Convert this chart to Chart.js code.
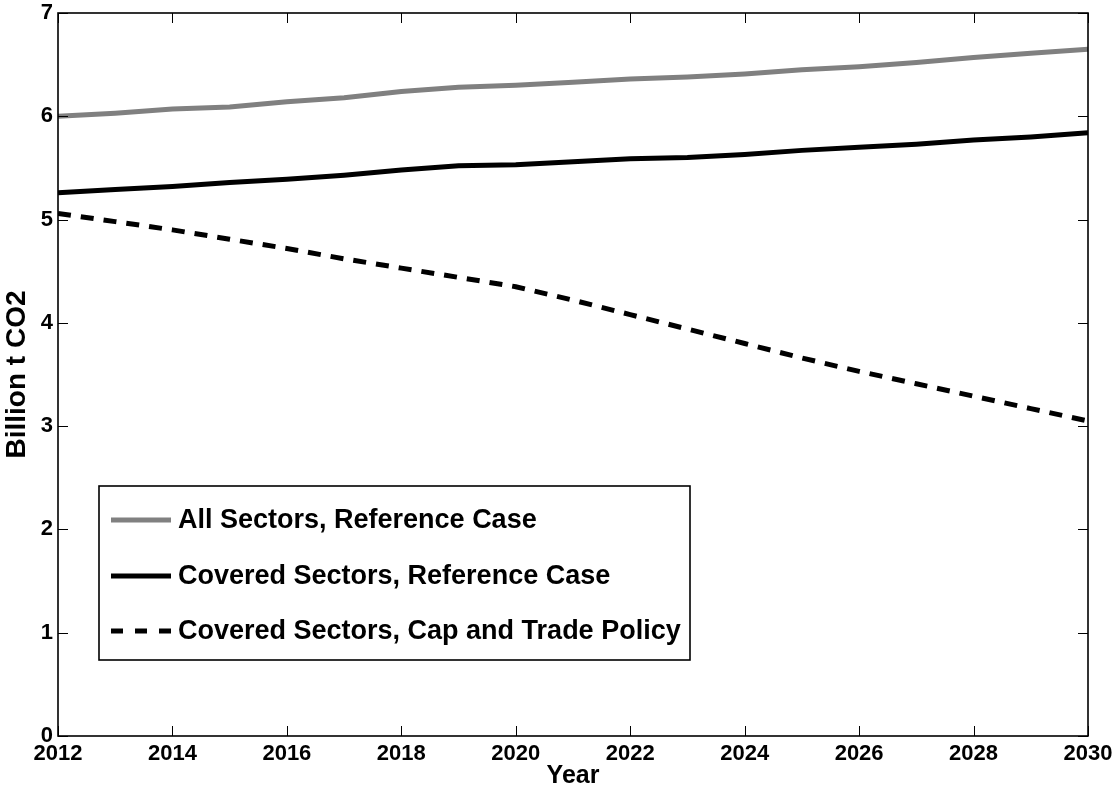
<!DOCTYPE html>
<html>
<head>
<meta charset="utf-8">
<script src="https://cdn.jsdelivr.net/npm/chart.js@4/dist/chart.umd.min.js"></script>
<style>
  html, body { margin: 0; padding: 0; background: #ffffff; }
  #wrap { width: 1114px; height: 791px; }
</style>
</head>
<body>
<div id="wrap"><canvas id="c" width="1114" height="791"></canvas></div>
<script>
const years = [2012, 2013, 2014, 2015, 2016, 2017, 2018, 2019, 2020, 2021, 2022, 2023, 2024, 2025, 2026, 2027, 2028, 2029, 2030];
const allSectorsRef = [6.00, 6.03, 6.07, 6.09, 6.14, 6.18, 6.24, 6.28, 6.30, 6.33, 6.36, 6.38, 6.41, 6.45, 6.48, 6.52, 6.57, 6.61, 6.65];
const coveredRef = [5.26, 5.29, 5.32, 5.36, 5.39, 5.43, 5.48, 5.52, 5.53, 5.56, 5.59, 5.60, 5.63, 5.67, 5.70, 5.73, 5.77, 5.80, 5.84];
const coveredCap = [5.06, 4.98, 4.90, 4.81, 4.72, 4.62, 4.53, 4.44, 4.35, 4.22, 4.08, 3.94, 3.80, 3.66, 3.53, 3.41, 3.29, 3.17, 3.05];
const seriesLabels = ["All Sectors, Reference Case", "Covered Sectors, Reference Case", "Covered Sectors, Cap and Trade Policy"];
const xTickStep = 2;
const yTicks = [0, 1, 2, 3, 4, 5, 6, 7];
const xTitle = "Year";
const yTitle = "Billion t CO2";

const FONT = "'Liberation Sans', Arial, Helvetica, sans-serif";
const DASH = [13, 10];

function pts(vals) { return years.map((y, i) => ({ x: y, y: vals[i] })); }

const framePlugin = {
  id: 'frame',
  afterDatasetsDraw(chart) {
    const ctx = chart.ctx;
    const a = chart.chartArea;
    const xs = chart.scales.x, ys = chart.scales.y;
    const tl = 10;
    ctx.save();
    ctx.strokeStyle = '#000';
    ctx.lineWidth = 1;
    ctx.beginPath();
    xs.ticks.forEach(t => {
      const px = Math.round(xs.getPixelForValue(t.value)) + 0.5;
      ctx.moveTo(px, a.bottom); ctx.lineTo(px, a.bottom - tl);
      ctx.moveTo(px, a.top); ctx.lineTo(px, a.top + tl);
    });
    ys.ticks.forEach(t => {
      const py = Math.round(ys.getPixelForValue(t.value)) + 0.5;
      ctx.moveTo(a.left, py); ctx.lineTo(a.left + tl, py);
      ctx.moveTo(a.right, py); ctx.lineTo(a.right - tl, py);
    });
    ctx.stroke();
    ctx.lineWidth = 1.6;
    ctx.strokeRect(a.left, a.top, a.right - a.left, a.bottom - a.top);
    ctx.restore();
  }
};

const legendPlugin = {
  id: 'boxLegend',
  afterDraw(chart) {
    const ctx = chart.ctx;
    const a = chart.chartArea;
    const bx = a.left + 41, by = 486, bw = 591, bh = 174;
    ctx.save();
    ctx.fillStyle = '#fff';
    ctx.fillRect(bx, by, bw, bh);
    ctx.strokeStyle = '#000';
    ctx.lineWidth = 1.6;
    ctx.strokeRect(bx, by, bw, bh);
    const rows = [520, 576, 631];
    chart.data.datasets.forEach((ds, i) => {
      const y = rows[i];
      ctx.beginPath();
      ctx.strokeStyle = ds.borderColor;
      ctx.lineWidth = ds.borderWidth;
      ctx.setLineDash(ds.borderDash ? [12, 12] : []);
      ctx.moveTo(bx + 12, y);
      ctx.lineTo(bx + 72, y);
      ctx.stroke();
      ctx.setLineDash([]);
      ctx.fillStyle = '#000';
      ctx.font = "bold 27px " + FONT;
      ctx.textBaseline = 'middle';
      ctx.textAlign = 'left';
      ctx.fillText(ds.label, bx + 79, y + 1);
    });
    ctx.restore();
  }
};

new Chart(document.getElementById('c'), {
  type: 'line',
  data: {
    datasets: [
      { label: seriesLabels[0], data: pts(allSectorsRef), borderColor: '#808080', borderWidth: 5, pointRadius: 0, tension: 0, fill: false },
      { label: seriesLabels[1], data: pts(coveredRef), borderColor: '#000000', borderWidth: 5, pointRadius: 0, tension: 0, fill: false },
      { label: seriesLabels[2], data: pts(coveredCap), borderColor: '#000000', borderWidth: 5, borderDash: DASH, pointRadius: 0, tension: 0, fill: false }
    ]
  },
  options: {
    responsive: false,
    animation: false,
    devicePixelRatio: 1,
    layout: { padding: { top: 13, right: 26, left: 0, bottom: 0 } },
    plugins: { legend: { display: false }, tooltip: { enabled: false } },
    scales: {
      x: {
        type: 'linear',
        min: years[0],
        max: years[years.length - 1],
        grid: { display: false, drawTicks: false },
        border: { display: false },
        ticks: {
          stepSize: xTickStep,
          color: '#000',
          font: { family: FONT, size: 22, weight: 'bold' },
          padding: 5,
          maxRotation: 0,
          autoSkip: false,
          callback: v => String(v)
        },
        title: { display: true, text: xTitle, color: '#000', font: { family: FONT, size: 25, weight: 'bold' }, padding: { top: 0, bottom: 0 } },
        afterFit: s => { s.height = 55; s.paddingLeft = 0; s.paddingRight = 0; }
      },
      y: {
        type: 'linear',
        min: yTicks[0],
        max: yTicks[yTicks.length - 1],
        grid: { display: false, drawTicks: false },
        border: { display: false },
        afterBuildTicks: s => { s.ticks = yTicks.map(v => ({ value: v })); },
        ticks: {
          color: '#000',
          font: { family: FONT, size: 22, weight: 'bold' },
          padding: 5,
          callback: v => String(v)
        },
        title: { display: true, text: yTitle, color: '#000', font: { family: FONT, size: 28, weight: 'bold' }, padding: { top: 0, bottom: 0 } },
        afterFit: s => { s.width = 58; s.paddingTop = 0; s.paddingBottom = 0; }
      }
    }
  },
  plugins: [framePlugin, legendPlugin]
});
</script>
</body>
</html>
